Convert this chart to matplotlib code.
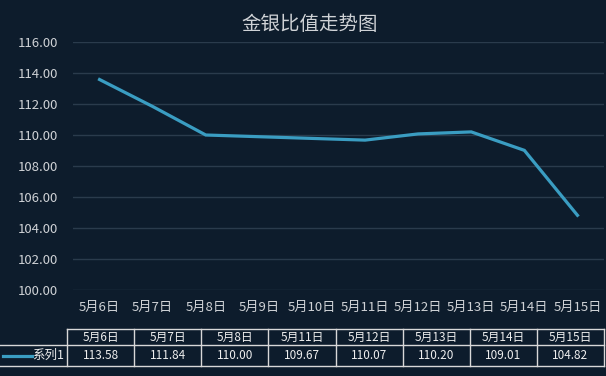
import matplotlib
matplotlib.use("Agg")
import matplotlib.pyplot as plt
from matplotlib.lines import Line2D

plt.rcParams['font.family'] = ['Noto Sans CJK SC', 'DejaVu Sans']

# 数据
axis_days = ["5月6日", "5月7日", "5月8日", "5月9日", "5月10日",
             "5月11日", "5月12日", "5月13日", "5月14日", "5月15日"]
dates = ["5月6日", "5月7日", "5月8日", "5月11日", "5月12日", "5月13日", "5月14日", "5月15日"]
ratio = [113.58, 111.84, 110.00, 109.67, 110.07, 110.20, 109.01, 104.82]
series_name = "系列1"
title = "金银比值走势图"

bg = "#0d1c2c"
line_c = "#3a9dc2"
grid_c = "#2a3b4c"
text_c = "#cfd2d6"
table_c = "#d8d8d8"

W, H = 606, 376
fig = plt.figure(figsize=(W / 100, H / 100), dpi=100, facecolor=bg)

def fx(px):
    return px / W

def fy(py):
    return 1 - py / H

# 绘图区
ax = fig.add_axes([fx(73), fy(290), fx(604) - fx(73), fy(42) - fy(290)])
ax.set_facecolor(bg)
xpos = [axis_days.index(d) for d in dates]
ax.plot(xpos, ratio, color=line_c, lw=2.3, solid_joinstyle='miter')
ax.set_xlim(-0.5, len(axis_days) - 0.5)
ax.set_ylim(100, 116)
ax.set_yticks(range(100, 117, 2))
ax.set_yticklabels([f"{v:.2f}" for v in range(100, 117, 2)])
ax.set_xticks(range(len(axis_days)))
ax.set_xticklabels(axis_days)
ax.grid(axis='y', color=grid_c, lw=1)
ax.set_axisbelow(True)
for s in ax.spines.values():
    s.set_visible(False)
ax.tick_params(axis='y', length=0, pad=11, labelsize=9.5, labelcolor=text_c)
ax.tick_params(axis='x', length=0, pad=8, labelsize=9.5, labelcolor=text_c)

fig.text(fx(310), fy(25), title, ha='center', va='center', fontsize=14, color=text_c)

# 数据表
x0, x1 = 67, 604
top, mid, bot = 329, 345, 366
ncol = len(dates)
cw = (x1 - x0) / ncol
lk = dict(color=table_c, lw=1)
fig.add_artist(Line2D([fx(x0), fx(x1)], [fy(top), fy(top)], **lk))
fig.add_artist(Line2D([0, fx(x1)], [fy(mid), fy(mid)], **lk))
fig.add_artist(Line2D([0, fx(x1)], [fy(bot), fy(bot)], **lk))
for i in range(ncol + 1):
    xx = fx(x0 + i * cw)
    fig.add_artist(Line2D([xx, xx], [fy(top), fy(bot)], **lk))
for i, (d, v) in enumerate(zip(dates, ratio)):
    cx = fx(x0 + (i + 0.5) * cw)
    fig.text(cx, fy((top + mid) / 2), d, ha='center', va='center', fontsize=8.5, color='#eeeeee')
    fig.text(cx, fy((mid + bot) / 2), f"{v:.2f}", ha='center', va='center', fontsize=8.5, color='#eeeeee')
fig.add_artist(Line2D([fx(3), fx(32)], [fy(355.5), fy(355.5)], color=line_c, lw=2.3))
fig.text(fx(64), fy(355.5), series_name, ha='right', va='center', fontsize=9, color='#eeeeee')

fig.savefig("out.png", dpi=100, facecolor=bg)
